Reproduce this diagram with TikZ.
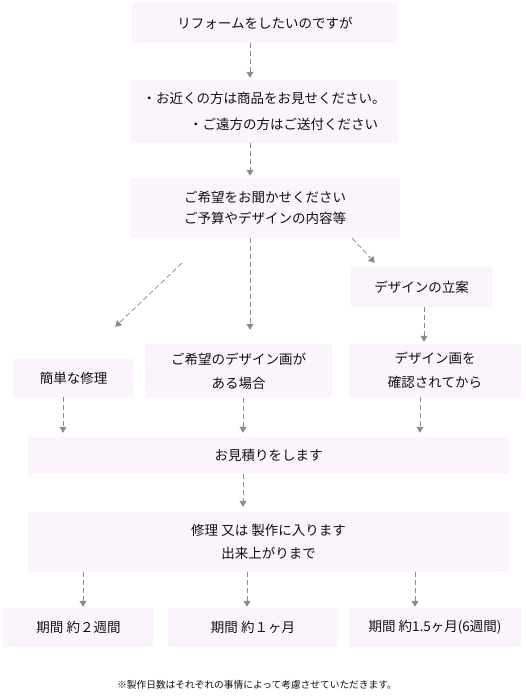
\documentclass[tikz,border=0pt]{standalone}
\usepackage{fontspec}
\setmainfont{Noto Sans CJK JP}
\usepackage{xcolor}
\definecolor{BoxFill}{HTML}{FCF4FC}
\definecolor{ArrowGray}{HTML}{8C8C8C}
\definecolor{TextDark}{HTML}{111111}
\usetikzlibrary{arrows.meta, positioning}

\begin{document}
\begin{tikzpicture}[
  x=1pt, y=-1pt,
  % Heller Kasten mit Text
  stepbox/.style={
    fill=BoxFill,
    inner sep=0pt,
    align=center,
    text=TextDark,
    font=\fontsize{13.5}{24}\selectfont
  },
  % Gestrichelter Pfeil
  flow/.style={
    draw=ArrowGray,
    color=ArrowGray,
    line width=0.8pt,
    dash pattern=on 5pt off 3pt,
    -{Triangle[width=7pt,length=6pt]}
  },
  % Fussnote
  notelbl/.style={
    font=\fontsize{9.7}{12}\selectfont,
    text=TextDark
  }
]

% =============================================================================
% RAHMEN
% =============================================================================
\useasboundingbox (0,0) rectangle (525,696);

% =============================================================================
% ANFRAGE
% =============================================================================
\node[stepbox, minimum width=266pt, minimum height=40pt] (request) at (265,23) {リフォームをしたいのですが};

\node[stepbox, minimum width=268pt, minimum height=63pt, align=left,
      font=\fontsize{13.5}{26}\selectfont] (visit) at (264,111.5)
  {・お近くの方は商品をお見せください。\\\hspace*{3.45em}・ご遠方の方はご送付ください};

\node[stepbox, minimum width=270pt, minimum height=60pt,
      font=\fontsize{13.5}{21}\selectfont] (hearing) at (265,208)
  {ご希望をお聞かせください\\ご予算やデザインの内容等};

% =============================================================================
% VERZWEIGUNG
% =============================================================================
\node[stepbox, minimum width=141pt, minimum height=40pt] (plan) at (421.5,287) {デザインの立案};

\node[stepbox, minimum width=121pt, minimum height=38pt] (simple) at (73.5,378) {簡単な修理};
\node[stepbox, minimum width=187pt, minimum height=54pt] (own) at (238.5,371) {ご希望のデザイン画が\\ある場合};
\node[stepbox, minimum width=172pt, minimum height=53pt] (confirm) at (435,370.5) {デザイン画を\\確認されてから};

% =============================================================================
% ANGEBOT UND FERTIGUNG
% =============================================================================
\node[stepbox, minimum width=481pt, minimum height=37pt] (estimate) at (268.5,455.5) {お見積りをします};

\node[stepbox, minimum width=481pt, minimum height=60pt,
      font=\fontsize{13.5}{23}\selectfont] (making) at (268.5,542)
  {修理 又は 製作に入ります\\出来上がりまで};

% =============================================================================
% DAUER
% =============================================================================
\node[stepbox, minimum width=151pt, minimum height=39pt] (period1) at (78.5,627.5) {期間 約２週間};
\node[stepbox, minimum width=170pt, minimum height=39pt] (period2) at (253,627.5) {期間 約１ヶ月};
\node[stepbox, minimum width=172pt, minimum height=39pt] (period3) at (435,627.5) {期間 約1.5ヶ月(6週間)};

\node[notelbl] (note) at (257,685) {※製作日数はそれぞれの事情によって考慮させていただきます。};

% =============================================================================
% PFEILE
% =============================================================================
\draw[flow] ([xshift=-15pt]request.south) -- ([xshift=-14pt,yshift=2pt]visit.north);
\draw[flow] ([xshift=-14pt]visit.south) -- ([xshift=-15pt,yshift=2pt]hearing.north);

\draw[flow] ([xshift=-48pt]hearing.south east) -- ([xshift=24pt,yshift=4pt]plan.north west);
\draw[flow] ([xshift=52pt,yshift=-25pt]hearing.south west) -- ([xshift=-19pt,yshift=32pt]simple.north east);
\draw[flow] ([xshift=-15pt]hearing.south) -- ([xshift=11.5pt,yshift=14pt]own.north);
\draw[flow] ([xshift=2.5pt]plan.south) -- ([xshift=-11pt,yshift=2pt]confirm.north);

\draw[flow] ([xshift=-10.5pt]simple.south) -- ([xshift=-205.5pt,yshift=4pt]estimate.north);
\draw[flow] ([xshift=4.5pt]own.south) -- ([xshift=-25.5pt,yshift=4pt]estimate.north);
\draw[flow] ([xshift=-15pt]confirm.south) -- ([xshift=151.5pt,yshift=4pt]estimate.north);

\draw[flow] ([xshift=-25.5pt]estimate.south) -- ([xshift=-25.5pt,yshift=5pt]making.north);

\draw[flow] ([xshift=-185.5pt]making.south) -- ([xshift=4.5pt,yshift=1pt]period1.north);
\draw[flow] ([xshift=-21.5pt]making.south) -- ([xshift=-6pt,yshift=1pt]period2.north);
\draw[flow] ([xshift=146.5pt]making.south) -- ([xshift=-20pt,yshift=1pt]period3.north);

\end{tikzpicture}
\end{document}
